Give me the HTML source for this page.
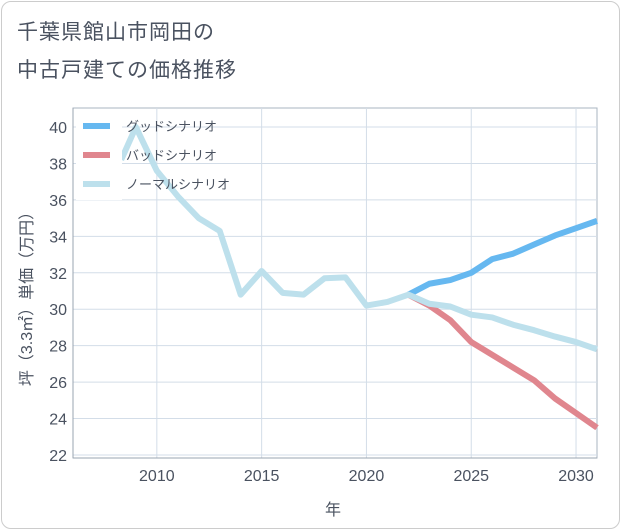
<!DOCTYPE html>
<html><head><meta charset="utf-8"><style>
body{margin:0;background:#fff;font-family:"Liberation Sans","Noto Sans CJK JP",sans-serif;}
.frame{position:absolute;left:1px;top:1px;width:617px;height:526px;border:1px solid #ccc;border-radius:10px;}
.title{position:absolute;left:17px;font-size:21px;color:#4a5260;letter-spacing:1px;}
</style></head><body>
<div class="frame"></div>
<div class="title" style="top:16px">千葉県館山市岡田の</div>
<div class="title" style="top:54px">中古戸建ての価格推移</div>
<svg id="c" width="621" height="530" style="position:absolute;left:0;top:0"></svg>
<script>
const years=[2008.3,2009,2010,2011,2012,2013,2014,2015,2016,2017,2018,2019,2020,2021,2022,2023,2024,2025,2026,2027,2028,2029,2030,2031];
const normalValues=[38.2,40.0,37.6,36.2,35.0,34.3,30.8,32.1,30.9,30.8,31.7,31.75,30.2,30.4,30.8,30.3,30.15,29.7,29.55,29.15,28.85,28.5,28.2,27.8];
const futureYears=[2022,2023,2024,2025,2026,2027,2028,2029,2030,2031];
const goodValues=[30.8,31.4,31.6,32.0,32.75,33.05,33.55,34.05,34.45,34.85];
const badValues=[30.8,30.2,29.4,28.2,27.5,26.8,26.1,25.1,24.3,23.5];
const yTicks=[22,24,26,28,30,32,34,36,38,40];
const xTicks=[2010,2015,2020,2025,2030];
const NS='http://www.w3.org/2000/svg',svg=document.getElementById('c');
const L=73,R=597,T=108,B=458;
const x=v=>L+(v-2006)/(2031-2006)*(R-L);
const y=v=>455-(v-22)*18.22;
function mk(t,a,p){const e=document.createElementNS(NS,t);for(const k in a)e.setAttribute(k,a[k]);(p||svg).appendChild(e);return e;}
mk('rect',{x:L,y:T,width:R-L,height:B-T,fill:'#fff',stroke:'#aab4c0','stroke-width':1});
yTicks.forEach(v=>{
 const g=mk('line',{x1:L,x2:R,y1:y(v),y2:y(v),stroke:'#d3dde8','stroke-width':1});
 
 
 const t=mk('text',{x:L-6,y:y(v)+6,'text-anchor':'end','font-size':16,fill:'#4a5260'});
 t.textContent=v;
 
 
});
xTicks.forEach(v=>{
 const g=mk('line',{x1:x(v),x2:x(v),y1:T,y2:B,stroke:'#d3dde8','stroke-width':1});
 
 
 const t=mk('text',{x:x(v),y:481,'text-anchor':'middle','font-size':16,fill:'#4a5260'});
 t.textContent=v;
 
 
});
mk('line',{x1:L,x2:L,y1:T,y2:B,stroke:'#9aa4b0'});
mk('line',{x1:L,x2:R,y1:B,y2:B,stroke:'#9aa4b0'});
const xt=mk('text',{x:333,y:515,'text-anchor':'middle','font-size':16,fill:'#4a5260'});
xt.textContent='年';


const yt=mk('text',{x:0,y:0,'text-anchor':'middle','font-size':16,fill:'#4a5260',transform:'translate(32,295) rotate(-90)'});
yt.textContent='坪（3.3㎡）単価（万円）';


function line(xs,vs,color,name){
 const p=mk('polyline',{points:xs.map((v,i)=>x(v)+','+y(vs[i])).join(' '),fill:'none',stroke:color,'stroke-width':6,'stroke-linejoin':'round'});
 
 
}
line(futureYears,badValues,'#e0868e','bad-scenario-line');
line(futureYears,goodValues,'#66b8f0','good-scenario-line');
line(years,normalValues,'#bde0ec','normal-scenario-line');
mk('rect',{x:76,y:112,width:46,height:88,fill:'#fff'});
[['グッドシナリオ','#66b8f0','legend-good'],['バッドシナリオ','#e0868e','legend-bad'],['ノーマルシナリオ','#bde0ec','legend-normal']].forEach((d,i)=>{
 const yy=126+i*29;
 mk('line',{x1:83,x2:110,y1:yy,y2:yy,stroke:d[1],'stroke-width':6});
 const t=mk('text',{x:126,y:yy+5,'font-size':13,fill:'#4a5260'});
 t.textContent=d[0];
 
 
});
</script>
</body></html>
